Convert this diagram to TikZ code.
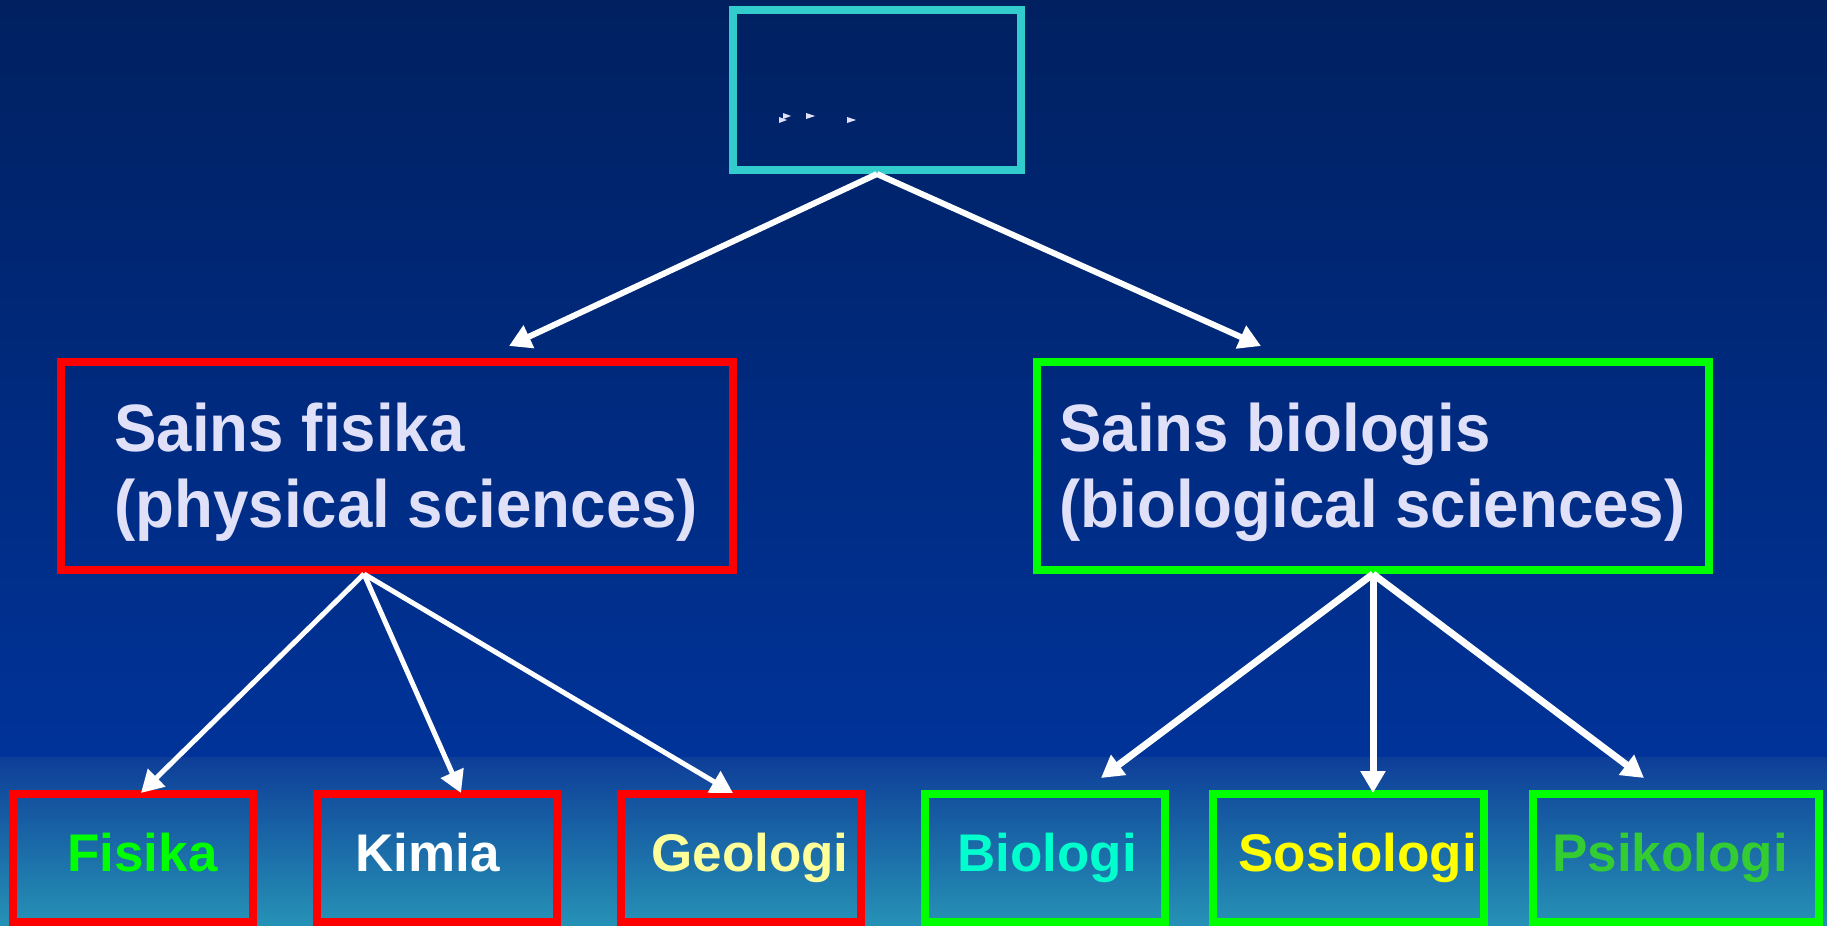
\documentclass[tikz,border=0pt]{standalone}
\usepackage{fontspec}
\setmainfont{Liberation Sans}
\newfontfamily\condfont[FakeStretch=0.95]{Liberation Sans}
\usetikzlibrary{arrows.meta,calc}
\definecolor{bgtop}{RGB}{0,32,96}
\definecolor{bgmid}{RGB}{0,51,153}
\definecolor{bandtop}{RGB}{14,62,152}
\definecolor{bandbot}{RGB}{38,146,182}
\definecolor{rootcol}{RGB}{51,204,204}
\definecolor{redbox}{RGB}{255,0,0}
\definecolor{greenbox}{RGB}{0,255,0}
\definecolor{lav}{RGB}{224,224,248}
\definecolor{cFis}{RGB}{0,255,0}
\definecolor{cKim}{RGB}{255,255,255}
\definecolor{cGeo}{RGB}{255,255,153}
\definecolor{cBio}{RGB}{0,255,204}
\definecolor{cSos}{RGB}{255,255,0}
\definecolor{cPsi}{RGB}{51,204,51}
\begin{document}
\begin{tikzpicture}[x=0.5pt,y=-0.5pt,
  box/.style={draw,line width=4pt,inner sep=0pt},
  bigtxt/.style={inner sep=0pt,anchor=base west,text=lav,font=\condfont\bfseries\fontsize{33.5}{38}\selectfont},
  smalltxt/.style={inner sep=0pt,anchor=base west,font=\bfseries\fontsize{26.5}{30}\selectfont},
  arr/.style={draw=white,-{Triangle[length=11pt,width=12pt]}}]
\useasboundingbox (0,0) rectangle (1827,926);
% background
\shade[top color=bgtop,bottom color=bgmid] (0,0) rectangle (1827,757);
\shade[top color=bandtop,bottom color=bandbot] (0,757) rectangle (1827,926);
% boxes
\node[box,draw=rootcol,minimum width=144pt,minimum height=80pt] (root) at (877,90) {};
\node[box,draw=redbox,minimum width=336pt,minimum height=104pt] (phys) at (397,466) {};
\node[box,draw=greenbox,minimum width=336pt,minimum height=104pt] (bio) at (1373,466) {};
\node[box,draw=redbox,minimum width=120pt,minimum height=64pt] (fis) at (133,858) {};
\node[box,draw=redbox,minimum width=120pt,minimum height=64pt] (kim) at (437,858) {};
\node[box,draw=redbox,minimum width=120pt,minimum height=64pt] (geo) at (741,858) {};
\node[box,draw=greenbox,minimum width=120pt,minimum height=64pt] (biol) at (1045,858) {};
\node[box,draw=greenbox,minimum width=135.5pt,minimum height=64pt] (sos) at (1348.5,858) {};
\node[box,draw=greenbox,minimum width=143pt,minimum height=64pt] (psi) at (1676,858) {};
% small marks in root box
\fill[lav] (779,117) -- (787,120) -- (779,123) -- cycle;
\fill[lav] (783,113) -- (791,116) -- (783,119) -- cycle;
\fill[lav] (806,113) -- (815,116) -- (806,119) -- cycle;
\fill[lav] (847,117) -- (856,120) -- (847,123) -- cycle;
% texts
\node[bigtxt] (physA) at (114,451) {Sains fisika};
\node[bigtxt] (physB) at (114,527) {(physical sciences)};
\node[bigtxt] (bioA) at (1059,451) {Sains biologis};
\node[bigtxt] (bioB) at (1059,527) {(biological sciences)};
\node[smalltxt,text=cFis] (tFis) at (67,871) {Fisika};
\node[smalltxt,text=cKim] (tKim) at (355,871) {Kimia};
\node[smalltxt,text=cGeo] (tGeo) at (651,871) {Geologi};
\node[smalltxt,text=cBio] (tBio) at (957,871) {Biologi};
\node[smalltxt,text=cSos] (tSos) at (1238,871) {Sosiologi};
\node[smalltxt,text=cPsi] (tPsi) at (1552,871) {Psikologi};
% connector end points
\coordinate (physTip) at (509,346);
\coordinate (bioTip) at (1261,346);
\coordinate (physOut) at ($(phys.south)+(-33,0)$);
\coordinate (bioOut) at (bio.south);
\coordinate (fisTip) at (141,793);
\coordinate (kimTip) at (461,793);
\coordinate (geoTip) at (733,793);
\coordinate (biolTip) at (1101,778);
\coordinate (sosTip) at (1373,793);
\coordinate (psiTip) at (1644,778);
% connectors
\draw[arr,line width=3pt] (root.south) -- (physTip);
\draw[arr,line width=3pt] (root.south) -- (bioTip);
\draw[arr,line width=2.5pt] (physOut) -- (fisTip);
\draw[arr,line width=2.5pt] (physOut) -- (kimTip);
\draw[arr,line width=2.5pt] (physOut) -- (geoTip);
\draw[arr,line width=3.5pt] (bioOut) -- (biolTip);
\draw[arr,line width=3.5pt] (bioOut) -- (sosTip);
\draw[arr,line width=3.5pt] (bioOut) -- (psiTip);
\end{tikzpicture}
\end{document}
